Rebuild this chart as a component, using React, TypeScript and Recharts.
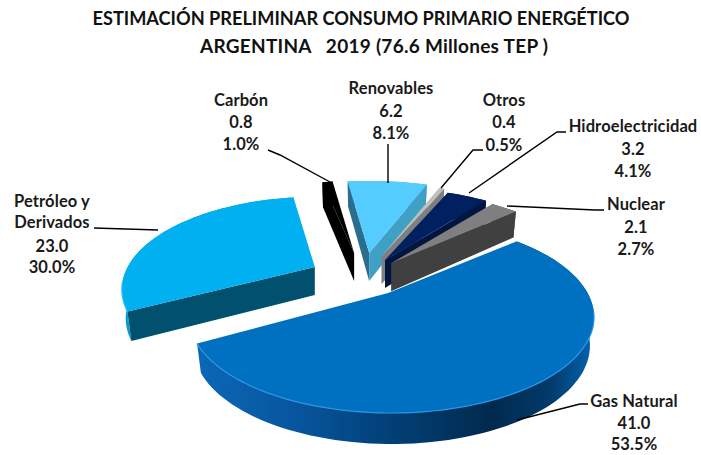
import React from "react";
import { PieChart, Pie } from "recharts";

const categories = ["Gas Natural", "Petróleo y Derivados", "Carbón", "Renovables", "Otros", "Hidroelectricidad", "Nuclear"];
const values = [41.0, 23.0, 0.8, 6.2, 0.4, 3.2, 2.1];
const percents = ["53.5%", "30.0%", "1.0%", "8.1%", "0.5%", "4.1%", "2.7%"];
const chartData = categories.map((name, i) => ({ name, value: values[i] }));

// ---- styling (not data) ----
const W = 701, H = 455, CX = 363, CY = 277, RX = 196, RY = 90, K = 0.25;
type Style = { top: string; wallA: string; wallB: string; arc: string; explode: number; scale: number; turn: number; shift: number };
const STYLES: Style[] = [
  { top: "#0070C0", wallA: "#0a4f92", wallB: "#0a4f92", arc: "url(#gasWall)", explode: 0.219, scale: 1, turn: 0, shift: 3.5 },
  { top: "#00B0F0", wallA: "#00506e", wallB: "#00506e", arc: "#0a9ad4", explode: 0.27, scale: 0.97, turn: 2.5, shift: 3 },
  { top: "#000000", wallA: "#000000", wallB: "#000000", arc: "#000000", explode: 0.27, scale: 1, turn: 0, shift: 0 },
  { top: "#55CCFF", wallA: "#2a6d8c", wallB: "#3f9fc4", arc: "#3f9fc4", explode: 0.27, scale: 1, turn: 0, shift: 0 },
  { top: "#BFBFBF", wallA: "#7f7f7f", wallB: "#7f7f7f", arc: "#7f7f7f", explode: 0.25, scale: 1, turn: 0, shift: 0 },
  { top: "#002060", wallA: "#001540", wallB: "#001540", arc: "#001540", explode: 0.22, scale: 1, turn: 0, shift: 0 },
  { top: "#7F7F7F", wallA: "#404040", wallB: "#404040", arc: "#404040", explode: 0.21, scale: 1, turn: 0, shift: 0 },
];
type Lab = { x: number; ys: number[]; line: string };
const LABELS: Lab[] = [
  { x: 634, ys: [407, 429, 450], line: "517,420 580,404 588,404" },
  { x: 52, ys: [207, 228, 252, 273], line: "158,230 94,228" },
  { x: 241, ys: [106, 128, 150], line: "330,182 280,155 268,150" },
  { x: 391, ys: [94, 117, 139], line: "388,183 388,144" },
  { x: 504, ys: [106, 128, 151], line: "441,188 473,150 483,150" },
  { x: 633, ys: [132, 155, 177], line: "469,193 557,132 566,132" },
  { x: 636, ys: [210, 233, 255], line: "507,206 595,210 604,210" },
];
const FONT = "Lato, 'Open Sans', sans-serif";

const rad = (d: number) => (d * Math.PI) / 180;

function SliceShape(props: any) {
  const idx = categories.indexOf(props.name ?? props.payload?.name);
  const st = STYLES[idx];
  const a0 = -props.startAngle + st.turn;
  const a1 = -props.endAngle + st.turn;
  const mid = (a0 + a1) / 2 - st.turn;
  const ax = props.cx + (props.outerRadius) * st.explode * Math.cos(rad(mid));
  const ay = props.cy + (props.outerRadius * RY / RX) * st.explode * Math.sin(rad(mid));
  const R = props.outerRadius;
  const proj = (deg: number) => {
    const x = st.scale * Math.cos(rad(deg));
    const y = st.scale * Math.sin(rad(deg));
    const w = 1 - K * y;
    return { x: ax + st.shift + (R * x) / w, y: ay + ((R * RY / RX) * y) / w, py: y };
  };
  const low = (p: { x: number; y: number; py: number }) => ({
    x: ax + (p.x - ax) * 0.98,
    y: p.y + 28 + 3 * Math.max(p.py, -1),
  });
  const steps = Math.max(2, Math.ceil(Math.abs(a1 - a0) / 2));
  const arc: { x: number; y: number; py: number }[] = [];
  for (let i = 0; i <= steps; i++) arc.push(proj(a0 + ((a1 - a0) * i) / steps));
  const pts = (l: { x: number; y: number }[]) => l.map((p) => `${p.x.toFixed(1)},${p.y.toFixed(1)}`).join(" ");
  const apex = { x: ax, y: ay, py: 0 };
  const arcWall = pts([...arc, ...arc.map(low).reverse()]);
  const first = arc[0];
  const last = arc[arc.length - 1];
  const startVisible = Math.sin(rad(a0 - 90)) > 0;
  const endVisible = Math.sin(rad(a1 + 90)) > 0;
  const wall = (p: typeof apex) => pts([apex, p, low(p), low(apex)]);
  const bevel = idx <= 1 ? arc.filter((p) => p.py > (idx === 0 ? 0.2 : 0.15)) : [];
  return (
    <g>
      <defs>
        <linearGradient id="gasWall" gradientUnits="userSpaceOnUse" x1="197" y1="0" x2="590" y2="0">
          <stop offset="0" stopColor="#0b68b8" />
          <stop offset="0.25" stopColor="#07559e" />
          <stop offset="0.5" stopColor="#023f76" />
          <stop offset="0.75" stopColor="#002a4d" />
          <stop offset="0.9" stopColor="#013a6c" />
          <stop offset="1" stopColor="#0561ab" />
        </linearGradient>
      </defs>
      <polygon points={arcWall} fill={st.arc} />
      {startVisible && <polygon points={wall(first)} fill={st.wallA} />}
      {endVisible && <polygon points={wall(last)} fill={st.wallB} />}
      <polygon points={pts([apex, ...arc])} fill={st.top} />
      {bevel.length > 1 && <polyline points={pts(bevel)} fill="none" stroke={idx === 0 ? "#2f95e6" : "#22c4ff"} strokeWidth={1.2} />}
    </g>
  );
}

function renderLabel(props: any) {
  const idx = categories.indexOf(props.name ?? props.payload?.name);
  const lab = LABELS[idx];
  const name = categories[idx];
  const nameLines = idx === 1 ? ["Petróleo y", "Derivados"] : [name];
  const lines = [...nameLines, values[idx].toFixed(1), percents[idx]];
  return (
    <g>
      <polyline points={lab.line} fill="none" stroke="#000" strokeWidth={1.4} />
      {lines.map((t, i) => (
        <text key={i} x={lab.x} y={lab.ys[i]} textAnchor="middle" fontFamily={FONT} fontWeight={700} fontSize={16.5} letterSpacing={0.1} fill="#1a1a1a">
          {t}
        </text>
      ))}
    </g>
  );
}

export default function App() {
  return (
    <div style={{ position: "absolute", left: 0, top: 0, width: W, height: H, background: "#fff" }}>
      <PieChart width={W} height={H} margin={{ top: 0, right: 0, bottom: 0, left: 0 }}>
        <text x={361} y={25} textAnchor="middle" textLength={537} fontFamily={FONT} fontWeight={700} fontSize={18.2} fill="#111">
          ESTIMACIÓN PRELIMINAR CONSUMO PRIMARIO ENERGÉTICO
        </text>
        <text x={374} y={53} textAnchor="middle" textLength={348} fontFamily={FONT} fontWeight={700} fontSize={19} fill="#111" style={{ whiteSpace: "pre" }}>
          {"ARGENTINA   2019 (76.6 Millones TEP )"}
        </text>
        <Pie
          data={chartData}
          dataKey="value"
          nameKey="name"
          cx={CX}
          cy={CY}
          innerRadius={0}
          outerRadius={RX}
          startAngle={42}
          endAngle={-318}
          paddingAngle={0}
          stroke="none"
          isAnimationActive={false}
          shape={SliceShape}
          label={renderLabel}
          labelLine={false}
        />
      </PieChart>
    </div>
  );
}
